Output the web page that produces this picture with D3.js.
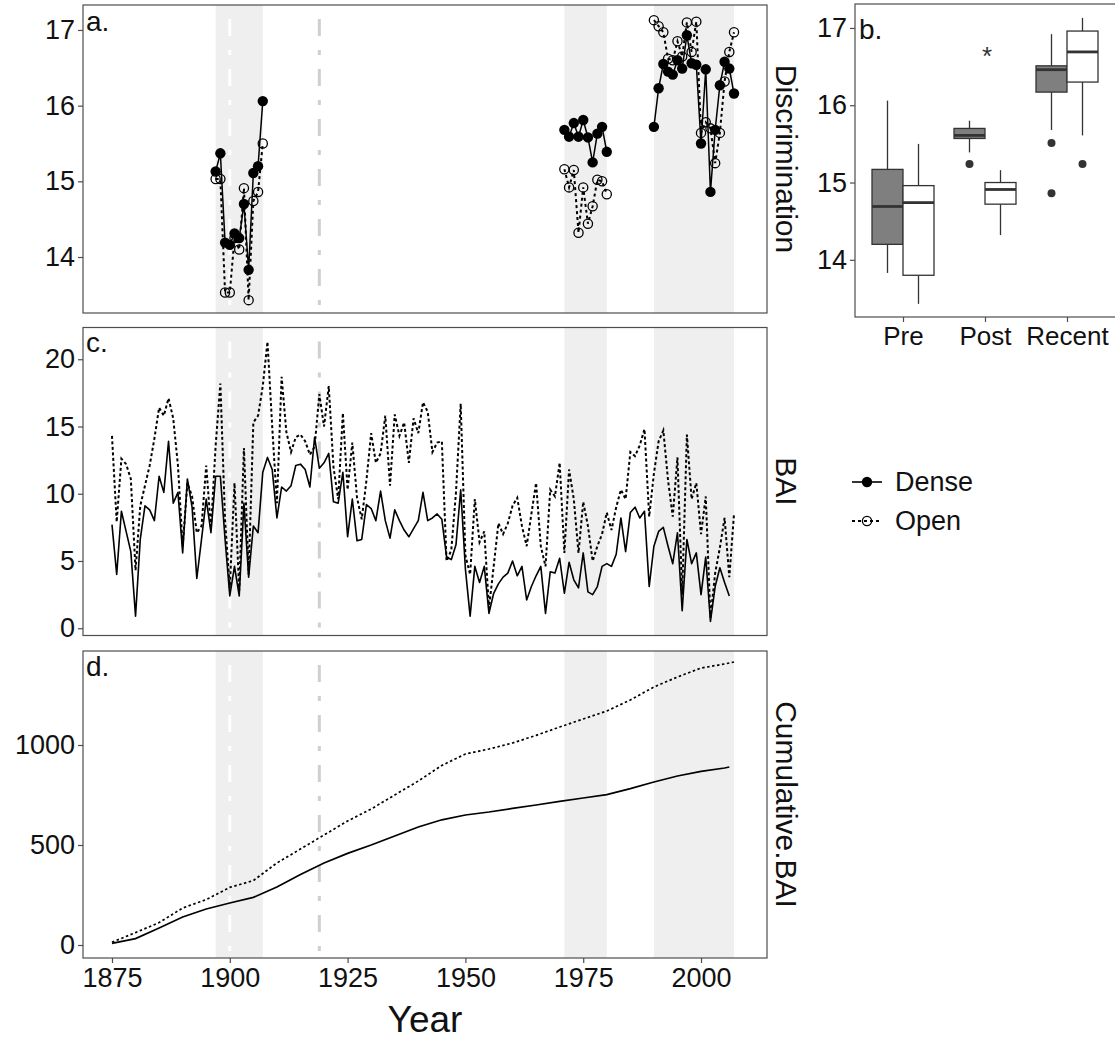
<!DOCTYPE html>
<html><head><meta charset="utf-8">
<script src="https://cdn.jsdelivr.net/npm/d3@7"></script>
<style>body{margin:0;background:#fff} text{font-family:"Liberation Sans",Arial,sans-serif}</style>
</head><body><svg id="c" width="1115" height="1041"></svg>
<script>
// ---------------- data ----------------
const seriesNames = ["Dense", "Open"];
const bandStart = [1897, 1971, 1990];
const bandEnd = [1907, 1980, 2007];
const whiteLineYear = 1900;
const grayLineYear = 1919;
const yearTicks = [1875, 1900, 1925, 1950, 1975, 2000];

// panel a: discrimination
const discYears = [1897,1898,1899,1900,1901,1902,1903,1904,1905,1906,1907,
  1971,1972,1973,1974,1975,1976,1977,1978,1979,1980,
  1990,1991,1992,1993,1994,1995,1996,1997,1998,1999,2000,2001,2002,2003,2004,2005,2006,2007];
const discDense = [15.13,15.37,14.19,14.16,14.31,14.25,14.70,13.83,15.11,15.20,16.06,
  15.68,15.59,15.77,15.59,15.81,15.58,15.25,15.63,15.72,15.39,
  15.72,16.23,16.55,16.45,16.41,16.60,16.49,16.93,16.56,16.54,15.50,16.48,14.86,15.68,16.27,16.58,16.49,16.16];
const discOpen = [15.03,15.03,13.53,13.53,14.25,14.10,14.91,13.43,14.74,14.86,15.50,
  15.16,14.92,15.15,14.32,14.92,14.44,14.67,15.02,15.00,14.83,
  17.13,17.05,16.97,16.62,16.60,16.85,16.65,17.10,16.71,17.11,15.64,15.78,15.70,15.24,15.64,16.32,16.71,16.97];
const discTicks = [14, 15, 16, 17];

// panel b: boxplot stats
const boxGroups = ["Pre", "Post", "Recent"];
const denseLow  = [13.83, 15.39, 15.68];
const denseQ1   = [14.20, 15.57, 16.17];
const denseMed  = [14.69, 15.61, 16.46];
const denseQ3   = [15.17, 15.70, 16.51];
const denseHigh = [16.06, 15.80, 16.92];
const openLow   = [13.43, 14.32, 15.61];
const openQ1    = [13.80, 14.72, 16.30];
const openMed   = [14.74, 14.91, 16.69];
const openQ3    = [14.96, 15.00, 16.96];
const openHigh  = [15.50, 15.16, 17.13];
const denseOutGroup = ["Post", "Recent", "Recent"];
const denseOutVal = [15.24, 15.51, 14.86];
const openOutGroup = ["Recent"];
const openOutVal = [15.24];
const starGroup = "Post";
const starValue = 16.72;

// panel c: BAI
const baiDenseStart = 1875;
const baiDense = [7.7,4.0,8.7,7.2,5.7,0.9,6.6,9.1,8.8,8.0,
  11.3,10.1,13.9,9.3,10.1,5.6,11.1,9.0,3.7,6.6,
  9.6,7.1,11.3,11.3,6.6,2.4,4.6,2.4,9.3,3.8,
  7.6,7.1,11.6,12.7,11.8,8.2,10.5,10.2,10.6,12.1,
  12.2,11.8,10.5,14.2,11.9,12.3,13.0,9.4,9.3,11.6,
  6.8,9.6,6.5,6.6,9.2,8.9,8.0,10.2,8.0,6.7,
  8.8,8.0,7.3,6.8,7.4,8.0,10.1,8.0,8.2,8.5,
  8.1,5.3,5.1,6.2,10.3,4.4,0.9,4.6,3.4,4.6,
  1.1,2.6,3.3,3.8,4.1,5.0,3.9,4.6,2.1,3.1,
  3.9,4.6,1.1,4.2,4.1,5.2,2.6,4.9,3.6,3.0,
  5.6,2.7,2.5,3.1,4.6,4.8,4.6,5.5,8.2,5.7,
  8.6,9.0,8.2,8.7,3.1,6.1,7.2,7.5,6.1,4.8,
  7.1,1.3,6.6,4.8,5.6,2.5,5.3,0.5,3.1,4.5,
  3.4,2.4];
const baiOpenStart = 1875;
const baiOpen = [14.3,7.9,12.6,12.2,11.1,4.3,9.1,10.6,12.1,14.1,
  16.4,15.8,17.1,15.6,12.1,6.1,10.8,9.8,7.1,7.6,
  12.1,7.4,13.6,18.2,8.0,3.0,10.8,2.8,13.4,4.0,
  15.3,15.8,18.0,21.3,15.0,9.3,18.7,14.6,13.1,14.2,
  14.4,13.9,12.9,13.5,17.4,15.0,18.0,12.0,9.6,16.0,
  10.3,13.8,9.7,8.1,11.0,14.5,12.3,13.0,15.8,10.6,
  15.9,14.3,15.3,12.3,15.6,14.5,16.8,16.1,13.1,13.8,
  13.9,5.0,5.8,10.1,16.7,5.4,4.0,9.6,6.4,7.2,
  1.5,4.6,7.8,7.0,7.8,9.1,9.7,7.6,6.1,8.5,
  10.8,6.1,4.6,10.3,9.8,12.3,5.6,11.8,9.6,5.6,
  9.4,7.6,5.0,6.1,7.0,8.6,7.3,9.0,10.3,9.6,
  13.1,12.8,13.6,14.8,8.3,11.5,13.9,14.7,11.0,8.3,
  12.7,2.5,14.4,9.6,10.8,7.0,9.8,0.8,4.1,6.0,
  8.2,3.8,8.5];
const baiTicks = [0, 5, 10, 15, 20];

// panel d: cumulative BAI
const cumDenseYears = [1875,1880,1885,1890,1895,1900,1905,1910,1915,1920,1925,1930,1935,1940,1945,1950,1955,1960,1965,1970,1975,1980,1985,1990,1995,2000,2005,2006];
const cumDense = [8,32,85,140,180,210,238,290,352,410,458,500,545,590,626,650,665,683,700,718,735,752,782,815,845,868,885,890];
const cumOpenYears = [1875,1880,1885,1890,1895,1900,1905,1910,1915,1920,1925,1930,1935,1940,1945,1950,1955,1960,1965,1970,1975,1980,1985,1990,1995,2000,2005,2007];
const cumOpen = [14,62,112,185,227,288,322,410,480,550,620,680,750,820,898,955,980,1010,1048,1090,1130,1170,1225,1290,1340,1385,1405,1415];
const cumTicks = [0, 500, 1000];

// ---------------- drawing ----------------
const svg = d3.select("#c");
svg.append("rect").attr("width", 1115).attr("height", 1041).attr("fill", "#fff");
const FONT = 27;
const frameColor = "#4d4d4d";
const X0 = 83, X1 = 767;
const x = d3.scaleLinear().domain([1868.85, 2014]).range([X0, X1]);

const yA = d3.scaleLinear().domain([13.26, 17.33]).range([313, 5]);
const yC = d3.scaleLinear().domain([-0.54, 22.36]).range([635.5, 327.5]);
const yD = d3.scaleLinear().domain([-65, 1470]).range([958, 651]);

function panelBg(y) {
  const [b, t] = y.range();
  const g = svg.append("g");
  bandStart.forEach((s, i) => {
    g.append("rect").attr("x", x(s)).attr("y", t).attr("width", x(bandEnd[i]) - x(s))
      .attr("height", b - t).attr("fill", "#efefef");
  });
  g.append("line").attr("x1", x(whiteLineYear)).attr("x2", x(whiteLineYear)).attr("y1", t).attr("y2", b)
    .attr("stroke", "#fff").attr("stroke-width", 3).attr("stroke-dasharray", "17,14,5,14").attr("stroke-dashoffset", -14);
  g.append("line").attr("x1", x(grayLineYear)).attr("x2", x(grayLineYear)).attr("y1", t).attr("y2", b)
    .attr("stroke", "#cfcfcf").attr("stroke-width", 3).attr("stroke-dasharray", "17,14,5,14").attr("stroke-dashoffset", -14);
}
function frame(x0, x1, y) {
  const [b, t] = y.range();
  svg.append("rect").attr("x", x0).attr("y", t).attr("width", x1 - x0).attr("height", b - t)
    .attr("fill", "none").attr("stroke", frameColor).attr("stroke-width", 1.2);
}
function styleAxis(g, size) {
  g.select(".domain").remove();
  g.selectAll(".tick line").attr("stroke", frameColor).attr("stroke-width", 1.2);
  g.selectAll(".tick text").attr("font-size", size).attr("fill", "#111")
    .attr("font-family", "Liberation Sans, Arial, sans-serif");
}
function leftAxis(y, ticks, xpos) {
  const g = svg.append("g").attr("transform", `translate(${xpos},0)`)
    .call(d3.axisLeft(y).tickValues(ticks).tickSize(5).tickPadding(3).tickFormat(d3.format("d")));
  styleAxis(g, FONT);
}
function rightTitle(label, y) {
  const [b, t] = y.range();
  const cy = (b + t) / 2;
  svg.append("text").attr("transform", `translate(786,${cy}) rotate(90)`)
    .attr("text-anchor", "middle").attr("dominant-baseline", "central")
    .attr("font-size", 30).attr("fill", "#111").text(label);
}
function panelLabel(txt, px, py) {
  svg.append("text").attr("x", px).attr("y", py).attr("font-size", 28).attr("fill", "#111").text(txt);
}

// ---- panel a ----
panelBg(yA);
const discRows = discYears.map((yr, i) => ({yr, d: discDense[i], o: discOpen[i]}));
const discSegs = [];
discRows.forEach((r, i) => {
  if (i === 0 || r.yr - discRows[i - 1].yr > 1) discSegs.push([]);
  discSegs[discSegs.length - 1].push(r);
});
const lineAd = d3.line().x(d => x(d.yr)).y(d => yA(d.d));
const lineAo = d3.line().x(d => x(d.yr)).y(d => yA(d.o));
discSegs.forEach(seg => {
  svg.append("path").attr("d", lineAo(seg)).attr("fill", "none").attr("stroke", "#000")
    .attr("stroke-width", 2).attr("stroke-dasharray", "3,3");
  svg.append("path").attr("d", lineAd(seg)).attr("fill", "none").attr("stroke", "#000").attr("stroke-width", 1.5);
});
svg.append("g").selectAll("circle").data(discRows).join("circle")
  .attr("cx", d => x(d.yr)).attr("cy", d => yA(d.d)).attr("r", 5.2).attr("fill", "#000");
svg.append("g").selectAll("circle").data(discRows).join("circle")
  .attr("cx", d => x(d.yr)).attr("cy", d => yA(d.o)).attr("r", 4.6).attr("fill", "none")
  .attr("stroke", "#000").attr("stroke-width", 1.3);
frame(X0, X1, yA);
leftAxis(yA, discTicks, X0);
panelLabel("a.", 86, 31);
rightTitle("Discrimination", yA);

// ---- panel b ----
const yB = d3.scaleLinear().domain([13.26, 17.31]).range([317, 4]);
const xB = d3.scalePoint().domain(boxGroups).range([903, 1067]);
const bw = 31;
function drawBoxes(low, q1, med, q3, high, off, fill) {
  const rows = boxGroups.map((g, i) => ({g, low: low[i], q1: q1[i], med: med[i], q3: q3[i], high: high[i]}));
  const g = svg.append("g");
  rows.forEach(r => {
    const cx = xB(r.g) + off;
    g.append("line").attr("x1", cx).attr("x2", cx).attr("y1", yB(r.high)).attr("y2", yB(r.q3))
      .attr("stroke", "#333").attr("stroke-width", 1.3);
    g.append("line").attr("x1", cx).attr("x2", cx).attr("y1", yB(r.q1)).attr("y2", yB(r.low))
      .attr("stroke", "#333").attr("stroke-width", 1.3);
    g.append("rect").attr("x", cx - bw / 2).attr("width", bw).attr("y", yB(r.q3)).attr("height", yB(r.q1) - yB(r.q3))
      .attr("fill", fill).attr("stroke", "#333").attr("stroke-width", 1.3);
    g.append("line").attr("x1", cx - bw / 2).attr("x2", cx + bw / 2).attr("y1", yB(r.med)).attr("y2", yB(r.med))
      .attr("stroke", "#333").attr("stroke-width", 2.8);
  });
}
drawBoxes(denseLow, denseQ1, denseMed, denseQ3, denseHigh, -bw / 2, "#7f7f7f");
drawBoxes(openLow, openQ1, openMed, openQ3, openHigh, bw / 2, "#fff");
denseOutGroup.forEach((g, i) => {
  svg.append("circle").attr("cx", xB(g) - bw / 2).attr("cy", yB(denseOutVal[i])).attr("r", 4).attr("fill", "#333");
});
openOutGroup.forEach((g, i) => {
  svg.append("circle").attr("cx", xB(g) + bw / 2).attr("cy", yB(openOutVal[i])).attr("r", 4).attr("fill", "#333");
});
svg.append("text").attr("x", xB(starGroup) + 2).attr("y", yB(starValue)).attr("text-anchor", "middle")
  .attr("dominant-baseline", "central").attr("dy", 6).attr("font-size", 26).attr("fill", "#333").text("*");
frame(855, 1120, yB);
leftAxis(yB, discTicks, 855);
{
  const g = svg.append("g").attr("transform", "translate(0,317)")
    .call(d3.axisBottom(xB).tickSize(5).tickPadding(5));
  styleAxis(g, 26);
}
panelLabel("b.", 859, 39);

// ---- panel c ----
panelBg(yC);
const baiDenseRows = baiDense.map((v, i) => [baiDenseStart + i, v]);
const baiOpenRows = baiOpen.map((v, i) => [baiOpenStart + i, v]);
const lineC = d3.line().x(d => x(d[0])).y(d => yC(d[1]));
svg.append("path").attr("d", lineC(baiOpenRows)).attr("fill", "none").attr("stroke", "#000")
  .attr("stroke-width", 2).attr("stroke-dasharray", "3,2.5");
svg.append("path").attr("d", lineC(baiDenseRows)).attr("fill", "none").attr("stroke", "#000")
  .attr("stroke-width", 1.6).attr("stroke-linejoin", "round");
frame(X0, X1, yC);
leftAxis(yC, baiTicks, X0);
panelLabel("c.", 86, 352);
rightTitle("BAI", yC);

// ---- legend ----
const legY = [482, 521];
seriesNames.forEach((nm, i) => {
  const ly = legY[i];
  svg.append("line").attr("x1", 852).attr("x2", 882).attr("y1", ly).attr("y2", ly)
    .attr("stroke", "#000").attr("stroke-width", i === 0 ? 1.6 : 1.8)
    .attr("stroke-dasharray", i === 0 ? null : "3,3");
  if (i === 0) svg.append("circle").attr("cx", 867).attr("cy", ly).attr("r", 5.2).attr("fill", "#000");
  else svg.append("circle").attr("cx", 867).attr("cy", ly).attr("r", 4.6).attr("fill", "none")
    .attr("stroke", "#000").attr("stroke-width", 1.3);
  svg.append("text").attr("x", 895).attr("y", ly).attr("dominant-baseline", "central")
    .attr("font-size", 27).attr("fill", "#111").text(nm);
});

// ---- panel d ----
panelBg(yD);
const lineDd = d3.line().x((d, i) => x(cumDenseYears[i])).y(d => yD(d));
const lineDo = d3.line().x((d, i) => x(cumOpenYears[i])).y(d => yD(d));
svg.append("path").attr("d", lineDo(cumOpen)).attr("fill", "none").attr("stroke", "#000")
  .attr("stroke-width", 1.7).attr("stroke-dasharray", "2.5,2.5");
svg.append("path").attr("d", lineDd(cumDense)).attr("fill", "none").attr("stroke", "#000")
  .attr("stroke-width", 1.7);
frame(X0, X1, yD);
leftAxis(yD, cumTicks, X0);
panelLabel("d.", 86, 676);
rightTitle("Cumulative.BAI", yD);
{
  const g = svg.append("g").attr("transform", "translate(0,958)")
    .call(d3.axisBottom(x).tickValues(yearTicks).tickSize(5).tickPadding(5).tickFormat(d3.format("d")));
  styleAxis(g, FONT);
}
svg.append("text").attr("x", (X0 + X1) / 2).attr("y", 1032).attr("text-anchor", "middle")
  .attr("font-size", 37).attr("fill", "#111").text("Year");
</script></body></html>
